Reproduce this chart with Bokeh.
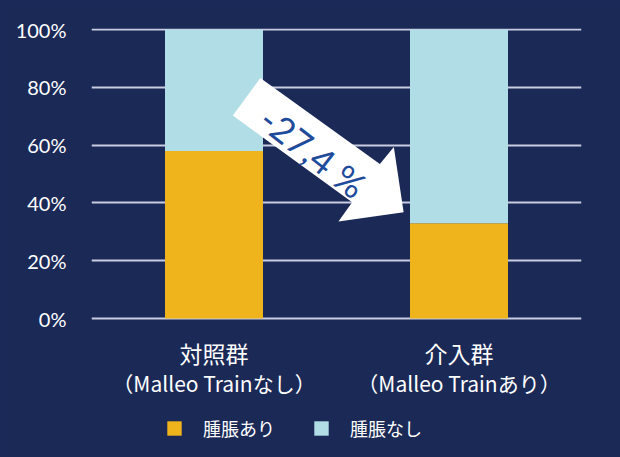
from bokeh.plotting import figure
from bokeh.models import FactorRange, Range1d, Legend, LegendItem, Label, FixedTicker
from bokeh.core.properties import value
from bokeh.embed import file_html
from bokeh.resources import INLINE

# ---- data ----
groups = ["対照群", "介入群"]
group_notes = ["（Malleo Trainなし）", "（Malleo Trainあり）"]
swelling_yes = [58, 33]      # 腫脹あり (%)
swelling_no = [42, 67]       # 腫脹なし (%)
series_names = ["腫脹あり", "腫脹なし"]
y_ticks = [0, 20, 40, 60, 80, 100]
y_tick_labels = ["0%", "20%", "40%", "60%", "80%", "100%"]
change_label = "-27,4 %"
# arrow outline (x in factor units, y in %)
arrow_x = [0.689, 1.177, 1.234, 1.274, 1.008, 1.064, 0.577]
arrow_y = [83.2, 53.5, 59.3, 36.8, 33.6, 40.2, 70.2]

BG = "#1B2957"
ORANGE = "#EFB31B"
LIGHTBLUE = "#B1DEE6"
GRID = "#C9CDE2"

W, H = 620, 456
TOP, LEFT, RIGHT = 28, 91, 39
PX_PER_UNIT = 2.89
y_max = 100 + 1 / PX_PER_UNIT
y_min = -(H - TOP - 100 * PX_PER_UNIT - 1) / PX_PER_UNIT

p = figure(width=W, height=H, x_range=FactorRange(*groups, range_padding=0),
           y_range=Range1d(y_min, y_max), output_backend="svg", toolbar_location=None,
           x_axis_location=None,
           background_fill_color=BG, border_fill_color=BG, outline_line_color=None,
           min_border_left=LEFT, min_border_right=RIGHT, min_border_top=TOP, min_border_bottom=0)

data = {"g": groups, "yes": swelling_yes, "no": swelling_no, "note": group_notes}
r = p.vbar_stack(["yes", "no"], x="g", width=0.4, color=[ORANGE, LIGHTBLUE], source=data, line_color=None)

# grid
p.xgrid.grid_line_color = None
p.ygrid.ticker = FixedTicker(ticks=y_ticks)
p.ygrid.grid_line_color = GRID
p.ygrid.grid_line_width = 2
p.ygrid.level = "underlay"

# y axis
p.yaxis.ticker = FixedTicker(ticks=y_ticks)
p.yaxis.major_label_overrides = dict(zip(y_ticks, y_tick_labels))
p.yaxis.axis_line_color = None
p.yaxis.major_tick_line_color = None
p.yaxis.minor_tick_line_color = None
p.yaxis.major_label_standoff = 19
p.yaxis.major_label_text_color = "white"
p.yaxis.major_label_text_font = "Lato"
p.yaxis.major_label_text_font_size = "20px"

# category labels (two lines)
p.text(x="g", y=-11.8, text="g", source=data, text_align="center", text_baseline="middle",
       text_color="white", text_font=value("Noto Sans CJK JP"), text_font_size="23px")
p.text(x="g", y=-22.2, text="note", source=data, text_align="center", text_baseline="middle",
       text_color="white", text_font=value("Noto Sans CJK JP"), text_font_size="21px")

# arrow
p.patch(arrow_x, arrow_y, fill_color="white", line_color=None)
p.add_layout(Label(x=0.905, y=57.6, x_units="data", y_units="data", text=change_label,
                   angle=-0.66, text_align="center", text_baseline="middle",
                   text_color="#1F4B9B", text_font="Lato", text_font_size="36px"))

legend = Legend(items=[LegendItem(label=series_names[0], renderers=[r[0]]),
                       LegendItem(label=series_names[1], renderers=[r[1]])],
                location=(74, 15), orientation="horizontal",
                background_fill_alpha=0, border_line_color=None,
                glyph_width=18, glyph_height=18, label_standoff=20, spacing=37,
                padding=0, margin=0, label_height=20,
                label_text_color="white", label_text_font="Noto Sans CJK JP",
                label_text_font_size="18px")
p.add_layout(legend, "center")

html = file_html(p, INLINE)
html = html.replace("<body>", '<body style="background-color:#1B2957;">')
open("out.html", "w").write(html)
